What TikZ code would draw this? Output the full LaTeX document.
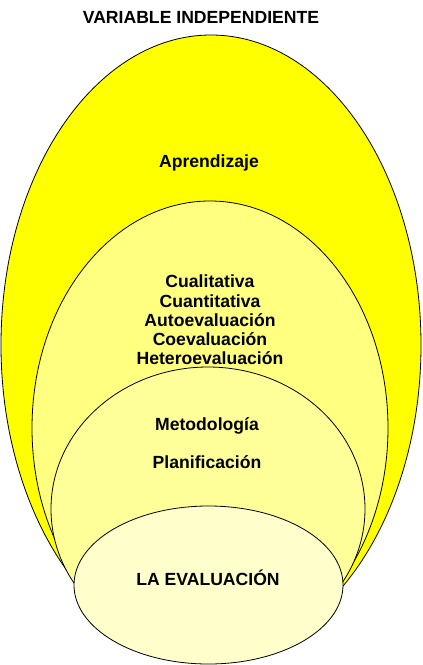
\documentclass[tikz,border=0pt]{standalone}
\usepackage{fontspec}
\setmainfont{Liberation Sans}
\definecolor{ink}{HTML}{000000}
\definecolor{lvone}{HTML}{FFFF00}
\definecolor{lvtwo}{HTML}{FFFF80}
\definecolor{lvthree}{HTML}{FFFF99}
\definecolor{lvfour}{HTML}{FFFFCC}
\tikzset{
  ring/.style={draw=ink,line width=0.8pt},
  label/.style={ink,font=\fontsize{17.6}{19.2}\selectfont\bfseries,align=center,inner sep=0pt},
}

\begin{document}
\begin{tikzpicture}[x=1pt,y=-1pt]
\useasboundingbox (0,0) rectangle (423,665);

% ---------------------------------------------------------------- title
\node[label] (title) at (201,17) {VARIABLE INDEPENDIENTE};

% ---------------------------------------------------------------- nested ellipses
\filldraw[ring,fill=lvone]   (211,345)   ellipse (210 and 310);
\filldraw[ring,fill=lvtwo]   (210,428)   ellipse (178 and 227);
\filldraw[ring,fill=lvthree] (208,509)   ellipse (157 and 142);
\filldraw[ring,fill=lvfour]  (208.5,585) ellipse (134.5 and 79);

% ---------------------------------------------------------------- labels
\node[label] (apr) at (209,163) {Aprendizaje};
\node[label] (tipos) at (210,320) {Cualitativa\\Cuantitativa\\Autoevaluación\\Coevaluación\\Heteroevaluación};
\node[label] (met) at (207,426) {Metodología};
\node[label] (plan) at (207,462) {Planificación};
\node[label] (eval) at (208,578) {LA EVALUACIÓN};

\end{tikzpicture}
\end{document}
